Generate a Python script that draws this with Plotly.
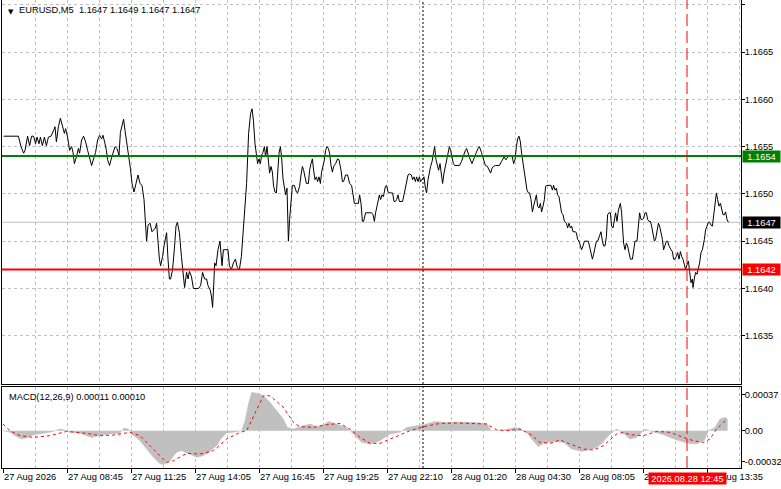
import plotly.graph_objects as go

FONT = "Liberation Sans, Arial, sans-serif"
FS = 9.3
GRID = "#C0C0C0"

# EURUSD M5 close line: bar position -> close
bars_a = [0.3, 7.7, 9.0, 10.3, 11.0, 12.3, 13.3, 14.3, 15.3, 16.3,
          17.0, 18.0, 18.7, 19.7, 20.7, 21.7, 22.7, 24.0, 25.3, 26.0,
          26.7, 27.7, 28.7, 29.7, 30.7, 31.3, 32.3, 33.3, 34.3, 35.0,
          35.7, 36.7, 37.7, 38.3, 39.3, 40.3, 41.3, 42.3, 43.3, 44.3,
          45.3, 46.3, 47.3, 48.3, 49.3, 50.0, 51.0, 51.7, 52.3, 53.3,
          54.0, 55.0, 56.0, 57.0, 58.0, 58.7, 59.7, 60.3, 61.0, 62.0,
          63.0, 63.7]
close_a = [1.16561, 1.16561, 1.16550, 1.16543, 1.16546, 1.16561, 1.16551, 1.16561, 1.16561, 1.16553,
           1.16560, 1.16553, 1.16560, 1.16551, 1.16560, 1.16551, 1.16560, 1.16561, 1.16567, 1.16571,
           1.16555, 1.16571, 1.16580, 1.16572, 1.16564, 1.16569, 1.16560, 1.16546, 1.16550, 1.16544,
           1.16532, 1.16539, 1.16548, 1.16543, 1.16557, 1.16561, 1.16555, 1.16546, 1.16539, 1.16530,
           1.16537, 1.16544, 1.16557, 1.16562, 1.16558, 1.16562, 1.16553, 1.16546, 1.16536, 1.16530,
           1.16536, 1.16544, 1.16550, 1.16548, 1.16541, 1.16565, 1.16574, 1.16579, 1.16567, 1.16553,
           1.16539, 1.16527]

bars_b = [64.5, 65.5, 66.5, 67.5, 68.5, 69.5, 70.5, 71.2, 71.8, 72.5,
          73.5, 74.5, 75.5, 76.2, 76.8, 77.5, 78.2, 78.8, 79.8, 80.5,
          81.2, 81.8, 82.5, 83.2, 83.8, 84.8, 85.8, 86.5, 87.2, 88.2,
          89.2, 90.2, 90.8, 91.8, 92.5, 93.2, 94.2, 95.2, 96.5, 97.8,
          98.8, 99.8, 100.8, 101.8, 102.5, 103.5, 104.2, 104.8, 105.5, 105.8,
          106.5, 107.5, 108.5, 109.5, 110.2, 111.5, 112.5, 113.2, 114.2, 115.2,
          116.2, 117.2, 118.2, 119.2, 119.8, 120.8, 121.8, 122.8, 123.8, 124.5,
          125.2]
close_b = [1.16511, 1.16502, 1.16511, 1.16520, 1.16511, 1.16509, 1.16494, 1.16473, 1.16450, 1.16467,
           1.16469, 1.16460, 1.16462, 1.16464, 1.16469, 1.16448, 1.16431, 1.16424, 1.16434, 1.16445,
           1.16455, 1.16459, 1.16431, 1.16410, 1.16410, 1.16420, 1.16445, 1.16466, 1.16470, 1.16459,
           1.16434, 1.16417, 1.16401, 1.16417, 1.16410, 1.16418, 1.16413, 1.16400, 1.16400, 1.16400,
           1.16403, 1.16417, 1.16410, 1.16410, 1.16403, 1.16399, 1.16392, 1.16380, 1.16410, 1.16427,
           1.16424, 1.16441, 1.16450, 1.16424, 1.16441, 1.16441, 1.16441, 1.16424, 1.16420, 1.16427,
           1.16431, 1.16422, 1.16420, 1.16434, 1.16452, 1.16480, 1.16511, 1.16564, 1.16585, 1.16590,
           1.16578]

bars_c = [126.0, 126.7, 127.3, 128.0, 128.7, 129.3, 130.0, 130.7, 131.3, 132.0,
          132.7, 133.3, 134.0, 134.7, 135.3, 136.0, 136.7, 137.3, 138.0, 138.7,
          139.3, 140.0, 140.7, 141.3, 142.0, 142.3, 142.7, 143.3, 144.0, 144.7,
          145.7, 146.7, 147.3, 148.3, 149.0, 149.7, 150.3, 151.0, 151.7, 152.7,
          153.3, 154.0, 154.7, 155.3, 156.0, 156.7, 157.3, 158.0, 158.7, 159.3,
          160.0, 160.7, 161.3, 162.0, 162.7, 163.3, 164.0, 164.7, 165.3, 166.3,
          167.3, 168.0, 169.0, 169.7, 170.3, 171.3, 172.3, 173.3, 174.3, 175.0,
          175.7, 176.7, 177.7, 178.3, 179.0, 179.7, 180.3, 181.3, 182.3, 183.3,
          184.3, 185.0, 185.7, 186.3]
close_c = [1.16553, 1.16539, 1.16532, 1.16537, 1.16532, 1.16541, 1.16544, 1.16550, 1.16539, 1.16550,
           1.16532, 1.16522, 1.16529, 1.16523, 1.16508, 1.16502, 1.16501, 1.16518, 1.16543, 1.16550,
           1.16539, 1.16516, 1.16506, 1.16499, 1.16506, 1.16466, 1.16450, 1.16473, 1.16497, 1.16509,
           1.16509, 1.16502, 1.16501, 1.16508, 1.16520, 1.16529, 1.16525, 1.16518, 1.16511, 1.16511,
           1.16525, 1.16532, 1.16537, 1.16525, 1.16515, 1.16518, 1.16513, 1.16518, 1.16511, 1.16523,
           1.16530, 1.16536, 1.16546, 1.16550, 1.16548, 1.16543, 1.16530, 1.16523, 1.16529, 1.16532,
           1.16537, 1.16536, 1.16525, 1.16513, 1.16513, 1.16520, 1.16520, 1.16511, 1.16509, 1.16501,
           1.16490, 1.16490, 1.16490, 1.16499, 1.16490, 1.16471, 1.16471, 1.16480, 1.16480, 1.16480,
           1.16480, 1.16478, 1.16471, 1.16480]

bars_d = [187.5, 188.2, 188.8, 189.5, 190.2, 191.2, 191.8, 192.5, 193.5, 194.8,
          195.5, 196.2, 196.8, 197.5, 198.2, 199.8, 200.5, 201.2, 201.8, 202.5,
          203.2, 204.2, 204.8, 205.5, 206.2, 206.8, 207.5, 208.2, 208.8, 209.8,
          210.5, 211.2, 211.8, 212.5, 213.2, 213.8, 214.5, 215.2, 215.8, 216.5,
          217.2, 217.8, 218.5, 219.2, 219.8, 220.5, 221.2, 221.8, 222.5, 223.2,
          223.8, 224.5, 225.2, 225.8, 228.2, 229.2, 230.2, 231.2, 231.8, 232.5,
          233.5, 234.5, 235.2, 235.8, 236.5, 237.5, 238.2, 239.2, 240.2, 241.2,
          242.2, 243.2, 243.8, 244.5, 245.2, 246.2, 248.2, 249.2, 249.8, 250.5,
          251.5]
close_d = [1.16494, 1.16499, 1.16494, 1.16499, 1.16497, 1.16508, 1.16509, 1.16502, 1.16501, 1.16501,
           1.16492, 1.16492, 1.16494, 1.16499, 1.16492, 1.16492, 1.16499, 1.16506, 1.16513, 1.16520,
           1.16521, 1.16520, 1.16515, 1.16518, 1.16513, 1.16518, 1.16513, 1.16518, 1.16513, 1.16516,
           1.16518, 1.16506, 1.16501, 1.16515, 1.16525, 1.16529, 1.16534, 1.16543, 1.16550, 1.16536,
           1.16529, 1.16525, 1.16532, 1.16518, 1.16511, 1.16522, 1.16529, 1.16537, 1.16544, 1.16550,
           1.16546, 1.16537, 1.16532, 1.16530, 1.16530, 1.16534, 1.16541, 1.16546, 1.16548, 1.16543,
           1.16537, 1.16532, 1.16536, 1.16541, 1.16543, 1.16548, 1.16550, 1.16544, 1.16536, 1.16530,
           1.16529, 1.16525, 1.16522, 1.16527, 1.16529, 1.16530, 1.16530, 1.16534, 1.16536, 1.16539,
           1.16536]

bars_e = [251.7, 253.0, 254.7, 255.3, 256.0, 256.7, 257.3, 258.0, 258.7, 259.3,
          260.0, 260.7, 261.3, 262.0, 262.7, 263.3, 264.0, 264.7, 265.3, 266.0,
          266.7, 267.3, 268.0, 268.7, 269.3, 270.0, 270.7, 271.3, 272.0, 274.0,
          274.7, 275.3, 276.0, 276.7, 277.3, 278.0, 278.7, 279.3, 280.0, 280.7,
          281.7, 282.3, 283.0, 283.7, 284.3, 285.0, 286.0, 286.7, 287.3, 288.0,
          288.7, 289.3, 290.0, 290.7, 292.7, 293.3, 294.0, 294.7, 295.3, 296.0,
          296.7, 297.3, 298.3, 299.0, 299.7, 300.3, 301.0, 301.7, 302.3, 303.0,
          303.7, 304.3, 305.0, 305.7, 306.3, 307.0, 307.7, 308.7, 309.3]
close_e = [1.16537, 1.16541, 1.16539, 1.16532, 1.16536, 1.16550, 1.16558, 1.16561, 1.16555, 1.16543,
           1.16534, 1.16525, 1.16515, 1.16504, 1.16501, 1.16501, 1.16494, 1.16481, 1.16487, 1.16494,
           1.16499, 1.16487, 1.16485, 1.16490, 1.16481, 1.16487, 1.16494, 1.16508, 1.16509, 1.16509,
           1.16504, 1.16509, 1.16504, 1.16506, 1.16499, 1.16497, 1.16487, 1.16480, 1.16478, 1.16471,
           1.16469, 1.16464, 1.16469, 1.16464, 1.16466, 1.16460, 1.16460, 1.16459, 1.16452, 1.16450,
           1.16445, 1.16441, 1.16445, 1.16450, 1.16450, 1.16445, 1.16436, 1.16431, 1.16436, 1.16443,
           1.16450, 1.16450, 1.16455, 1.16460, 1.16450, 1.16445, 1.16445, 1.16455, 1.16478, 1.16480,
           1.16480, 1.16466, 1.16464, 1.16476, 1.16480, 1.16471, 1.16483, 1.16490, 1.16480]

bars_f = [310.3, 311.0, 311.7, 312.3, 313.0, 313.7, 314.7, 315.3, 316.0, 317.0,
          317.7, 318.3, 319.0, 319.7, 320.3, 321.0, 321.7, 322.3, 323.0, 323.7,
          324.3, 325.0, 325.7, 326.3, 327.0, 327.7, 328.3, 329.0, 329.7, 330.3,
          331.0, 331.7, 332.3, 333.0, 334.0, 334.7, 335.3, 336.0, 336.7, 337.3,
          338.0, 338.7, 339.3, 340.0, 340.7, 341.3, 342.0, 342.7, 343.3, 344.0,
          344.7, 345.0, 345.7, 346.3, 347.0, 347.7, 348.3, 349.0, 349.7, 350.7,
          351.3, 352.0, 352.7, 353.3, 354.0, 354.7, 355.3, 356.0, 356.7, 357.3,
          358.0, 358.7, 359.3, 360.0, 360.7, 361.3, 362.0, 362.7]
close_f = [1.16448, 1.16441, 1.16448, 1.16445, 1.16438, 1.16431, 1.16431, 1.16441, 1.16450, 1.16450,
           1.16466, 1.16480, 1.16473, 1.16473, 1.16474, 1.16480, 1.16480, 1.16473, 1.16471, 1.16471,
           1.16466, 1.16459, 1.16450, 1.16452, 1.16459, 1.16469, 1.16466, 1.16459, 1.16452, 1.16441,
           1.16445, 1.16450, 1.16450, 1.16445, 1.16441, 1.16439, 1.16431, 1.16431, 1.16434, 1.16438,
           1.16431, 1.16439, 1.16434, 1.16431, 1.16425, 1.16420, 1.16425, 1.16429, 1.16418, 1.16406,
           1.16410, 1.16401, 1.16411, 1.16417, 1.16415, 1.16420, 1.16427, 1.16438, 1.16441, 1.16452,
           1.16462, 1.16466, 1.16470, 1.16470, 1.16467, 1.16466, 1.16478, 1.16490, 1.16501, 1.16494,
           1.16487, 1.16490, 1.16483, 1.16478, 1.16478, 1.16481, 1.16473, 1.16470]

# MACD(12,26,9): histogram (main line) and signal, in units of 1e-5
hist_bar = [0, 3.5, 6, 9.3, 11.8, 15.2, 20.2, 25.2, 28.5, 31,
            33.5, 38.5, 44.3, 47.7, 53.5, 58.5, 60.5, 62.7, 64.3, 68.5,
            71.8, 75.2, 78.2, 80.2, 83.5, 86.8, 89.3, 93.5, 96.8, 100.2,
            103.5, 106.8, 109.3, 111.8, 115.2, 119.3, 121, 122.7, 124.3, 127.7,
            130.2, 133.5, 136.8, 140.2, 142.2, 145.2, 148.5, 153.5, 156.8, 161,
            162.7, 166.8, 171.8, 175.2, 179.3, 183.5, 188.5, 193.5, 198.5, 201.8,
            206.8, 211.8, 216, 220.2, 226.8, 235.2, 241.8, 244.3, 250.2, 256,
            258.5, 261.8, 264.3, 267.7, 270.2, 275.2, 280.2, 284.3, 289.3, 295.2,
            299.3, 302.7, 306.8, 310.2, 313.5, 316.8, 321, 324.3, 330.2, 336.8,
            342.7, 346.8, 350.8, 352.7, 356, 358.5, 361, 362.3]
hist_e5 = [0, -1.7, -5.1, -8.6, -7.5, -4.1, -2.7, -0.7, 1.7, 0.7,
           -1.7, -2.7, -6.9, -5.1, -3.4, -2.7, 2.7, 1.7, -3.4, -10.3,
           -18.9, -27.4, -33.6, -35.0, -30.9, -22.3, -20.6, -24, -27.4, -25.7,
           -21.3, -15.4, -7.5, -2.4, -1.7, 0, 10.3, 27.4, 39.4, 38.4,
           36, 29.2, 20.6, 12, 3.4, 1.7, 4.1, 6.9, 4.1, 6.9,
           9.6, 6.9, 3.4, -3.4, -12, -13.7, -10.3, -3.4, -1.7, 3.4,
           5.1, 6.9, 9.6, 8.6, 8.9, 8.6, 7.5, 0, 0.7, 3.4,
           2.4, -1.7, -8.6, -16.5, -13, -11, -12, -18.9, -21.3, -18.9,
           -13.7, -5.1, 1.7, -2.7, -8.6, -6.9, 1.7, -0.7, -4.1, -9.6,
           -13, -13.7, -9.6, 0, 3.4, 12, 13.7, 12]

sig_bar = [0, 3.5, 8.5, 15.2, 23.5, 31.8, 41.8, 48.5, 55.2, 63.5,
           68.5, 75.2, 81.8, 85.2, 91.8, 98.5, 105.2, 111.8, 118.5, 121.8,
           126.8, 130.2, 133.5, 140.2, 145.2, 148.5, 155.2, 161.8, 168.5, 173.5,
           178.5, 183.5, 188.5, 193.5, 198.5, 203.5, 210.2, 218.5, 226.8, 235.2,
           241.8, 246.8, 251.8, 258.5, 263.5, 268.5, 273.5, 278.5, 283.5, 290.2,
           295.2, 300.2, 306.8, 310.2, 313.5, 320.2, 326.8, 333.5, 340.2, 345.2,
           350.2, 353.5, 356.8, 360.2, 362.2]
sig_e5 = [6.9, 0, -5.1, -6.9, -5.1, -0.7, -2.7, -5.1, -4.5, -1.7,
          -5.1, -18.9, -32.6, -30.9, -23.3, -24, -20.6, -8.6, -1.7, 0,
          20.6, 36, 36, 24, 8.6, 4.1, 3.4, 6.2, 7.5, 1.7,
          -6.9, -13, -13, -8.6, -4.1, 0, 4.1, 7.5, 7.9, 7.5,
          6.9, 1, 0, 1.7, -3.4, -12, -13, -9.6, -13.7, -18.9,
          -19.9, -15.4, -3.4, -1.7, -4.1, -5.1, -0.7, -1.7, -6.9, -10.3,
          -12, -8.6, 1.7, 8.6, 11]

time_ticks = [0, 32, 64, 96, 128, 160, 192, 224, 256, 288, 320, 352]
time_labels = ["27 Aug 2026", "27 Aug 08:45", "27 Aug 11:25", "27 Aug 14:05",
               "27 Aug 16:45", "27 Aug 19:25", "27 Aug 22:10", "28 Aug 01:20",
               "28 Aug 04:30", "28 Aug 08:05", "28 Aug 10:55", "28 Aug 13:35"]
price_ticks = [1.1635, 1.1640, 1.1645, 1.1650, 1.1655, 1.1660, 1.1665, 1.1670]
macd_ticks = [0.00037, 0.0, -0.00032]
macd_labels = ["0.00037", "0.00", "-0.00032"]

resistance = 1.1654
support = 1.1642
last_price = 1.1647
day_sep_bar = 210
cursor_bar = 342
cursor_label = "2026.08.28 12:45"
header = "EURUSD,M5&nbsp;&nbsp;1.1647 1.1649 1.1647 1.1647"
macd_title = "MACD(12,26,9) 0.00011 0.00010"

bars = bars_a + bars_b + bars_c + bars_d + bars_e + bars_f
closes = close_a + close_b + close_c + close_d + close_e + close_f
hist = [v * 1e-5 for v in hist_e5]
sig = [v * 1e-5 for v in sig_e5]

fig = go.Figure()
fig.add_trace(go.Scatter(x=bars, y=closes, mode="lines", xaxis="x", yaxis="y",
                         line=dict(color="black", width=1), hoverinfo="skip"))
fig.add_trace(go.Scatter(x=hist_bar, y=hist, mode="lines", fill="tozeroy", xaxis="x2", yaxis="y2",
                         fillcolor="#C0C0C0", line=dict(color="#C0C0C0", width=0.5), hoverinfo="skip"))
fig.add_trace(go.Scatter(x=sig_bar, y=sig, mode="lines", xaxis="x2", yaxis="y2",
                         line=dict(color="#FF0000", width=1, dash="3px,3px"), hoverinfo="skip"))

xrange = [-0.5, 369]
fig.update_layout(
    width=781, height=489,
    margin=dict(l=2, r=40, t=0, b=21, autoexpand=False),
    paper_bgcolor="white", plot_bgcolor="white",
    showlegend=False, hovermode=False,
    font=dict(family=FONT, size=FS, color="black"),
    xaxis=dict(domain=[0, 1], range=xrange, anchor="y", tickmode="linear", tick0=0, dtick=16,
               showticklabels=False, ticks="", showgrid=True, gridcolor=GRID, griddash="3px,3px",
               zeroline=False, showline=True, mirror=True, linecolor="black", linewidth=1,
               automargin=False),
    yaxis=dict(domain=[0.1795, 1], range=[1.16299, 1.16705], anchor="x", side="right",
               tickvals=price_ticks, ticktext=["%.4f" % p for p in price_ticks],
               ticks="outside", ticklen=3, tickcolor="black", ticklabelstandoff=-2,
               showgrid=True, gridcolor=GRID, griddash="3px,3px", zeroline=False,
               showline=True, mirror=True, linecolor="black", linewidth=1, automargin=False),
    xaxis2=dict(domain=[0, 1], range=xrange, anchor="y2", matches="x",
                tickvals=time_ticks, ticktext=time_labels, ticklabelposition="outside right",
                tickangle=0, ticks="outside", ticklen=4, tickcolor="black",
                showgrid=True, gridcolor=GRID, griddash="3px,3px",
                minor=dict(tickmode="linear", tick0=16, dtick=32, showgrid=True,
                           gridcolor=GRID, griddash="3px,3px", ticks=""),
                zeroline=False, showline=True, mirror=True, linecolor="black", linewidth=1,
                automargin=False),
    yaxis2=dict(domain=[0, 0.1741], range=[-0.000384, 0.000455], anchor="x2", side="right",
                tickvals=macd_ticks, ticktext=macd_labels,
                ticks="outside", ticklen=3, tickcolor="black", ticklabelstandoff=-2,
                showgrid=False, zeroline=False,
                showline=True, mirror=True, linecolor="black", linewidth=1, automargin=False),
)

# horizontal levels
fig.add_shape(type="line", xref="paper", x0=0, x1=1, yref="y", y0=last_price, y1=last_price,
              line=dict(color="#C0C0C0", width=1), layer="below")
fig.add_shape(type="line", xref="paper", x0=0, x1=1, yref="y", y0=resistance, y1=resistance,
              line=dict(color="#008000", width=2))
fig.add_shape(type="line", xref="paper", x0=0, x1=1, yref="y", y0=support, y1=support,
              line=dict(color="#FF0000", width=2))

# day separator and cursor line across both panels
fig.add_shape(type="line", xref="x", x0=day_sep_bar, x1=day_sep_bar, yref="paper", y0=0, y1=1,
              line=dict(color="black", width=1, dash="2px,2px"))
fig.add_shape(type="line", xref="x", x0=cursor_bar, x1=cursor_bar, yref="paper", y0=0, y1=1,
              line=dict(color="#FF0000", width=1, dash="12px,5px"))

for val, bg in [(resistance, "#008000"), (support, "#FF0000"), (last_price, "black")]:
    fig.add_annotation(xref="paper", x=1, xanchor="left", xshift=1, yref="y", y=val,
                       text="%.4f" % val, showarrow=False, bgcolor=bg, borderpad=0,
                       width=37, height=11, font=dict(color="white", size=FS, family=FONT))

fig.add_annotation(xref="x", x=cursor_bar, yref="paper", y=0, yanchor="top", yshift=-4,
                   text=cursor_label, showarrow=False, bgcolor="#FF0000", borderpad=0,
                   width=77, height=11, font=dict(color="white", size=FS, family=FONT))

fig.add_annotation(xref="paper", x=0, xanchor="left", xshift=4, yref="paper", y=1,
                   yanchor="top", yshift=-6, showarrow=False, text="▼",
                   font=dict(color="black", size=7, family="DejaVu Sans"))
fig.add_annotation(xref="paper", x=0, xanchor="left", xshift=15, yref="paper", y=1,
                   yanchor="top", yshift=-3, showarrow=False, text=header,
                   font=dict(color="black", size=FS, family=FONT))
fig.add_annotation(xref="paper", x=0, xanchor="left", xshift=5, yref="y2 domain", y=1,
                   yanchor="top", yshift=-3, showarrow=False, text=macd_title,
                   font=dict(color="black", size=FS, family=FONT))

fig.write_html("out.html", config={"displayModeBar": False},
               post_script="document.body.style.margin='0px';")
